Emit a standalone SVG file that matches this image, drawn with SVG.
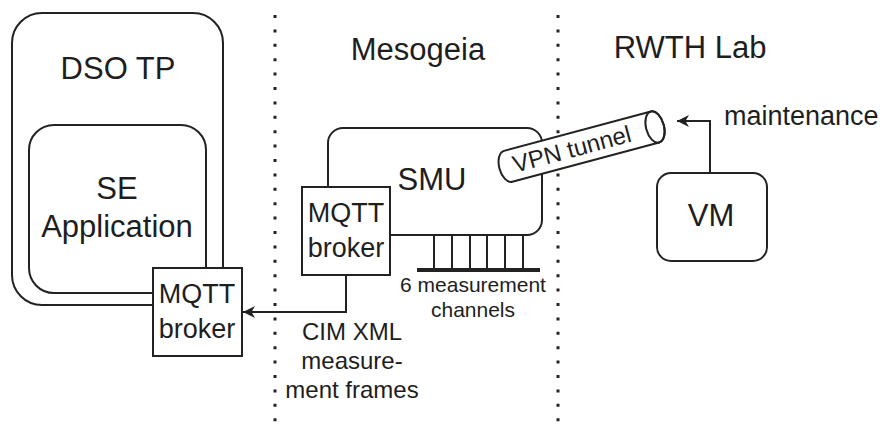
<svg xmlns="http://www.w3.org/2000/svg" width="885" height="428" viewBox="0 0 885 428">
<style>
  .box { fill: #ffffff; stroke: #222222; stroke-width: 2; }
  .line { fill: none; stroke: #222222; stroke-width: 2; }
  .dots { fill: none; stroke: #222222; stroke-width: 3; stroke-dasharray: 3 11.4; }
  text { font-family: "Liberation Sans", Arial, Helvetica, sans-serif; fill: #1e1e1e; text-anchor: middle; }
  .big { font-size: 31px; }
  .mid { font-size: 27px; }
  .lbl { font-size: 24px; }
  .sml { font-size: 21px; }
</style>
<defs>
  <marker id="arrow" markerUnits="userSpaceOnUse" markerWidth="14" markerHeight="12" refX="12" refY="6" orient="auto">
    <path d="M0,0 L12,6 L0,12 L3.5,6 Z" fill="#222222"/>
  </marker>
</defs>
<rect width="885" height="428" fill="#ffffff"/>

<g id="separators">
  <line class="dots" x1="275" y1="15" x2="275" y2="428"/>
  <line class="dots" x1="558" y1="15" x2="558" y2="428"/>
</g>

<g id="titles">
  <text class="big" x="418" y="60">Mesogeia</text>
  <text class="big" x="690" y="58">RWTH Lab</text>
</g>

<g id="dso-tp">
  <rect class="box" x="12" y="13" width="211" height="292" rx="30" ry="30"/>
  <text class="big" x="118" y="79">DSO TP</text>
</g>

<g id="se-application">
  <rect class="box" x="29" y="125" width="177" height="168" rx="25" ry="25"/>
  <text class="big" x="117" y="199">SE</text>
  <text class="big" x="117" y="237">Application</text>
</g>

<g id="mqtt-broker-dso">
  <rect class="box" x="153" y="268" width="89" height="88"/>
  <text class="mid" x="197" y="303">MQTT</text>
  <text class="mid" x="197" y="338">broker</text>
</g>

<g id="smu">
  <rect class="box" x="328" y="128" width="214" height="107" rx="15" ry="15"/>
  <text class="big" x="432" y="190">SMU</text>
</g>

<g id="measurement-channels">
  <g class="line">
    <line x1="434" y1="235" x2="434" y2="270"/>
    <line x1="452" y1="235" x2="452" y2="270"/>
    <line x1="470" y1="235" x2="470" y2="270"/>
    <line x1="487" y1="235" x2="487" y2="270"/>
    <line x1="505" y1="235" x2="505" y2="270"/>
    <line x1="523" y1="235" x2="523" y2="270"/>
  </g>
  <line x1="417" y1="270" x2="540" y2="270" stroke="#222222" stroke-width="4"/>
  <text class="sml" x="473" y="292">6 measurement</text>
  <text class="sml" x="473" y="317">channels</text>
</g>

<g id="mqtt-broker-smu">
  <rect class="box" x="302" y="187" width="88" height="88"/>
  <text class="mid" x="346" y="222">MQTT</text>
  <text class="mid" x="346" y="257">broker</text>
</g>

<g id="vpn-tunnel" transform="translate(655,127) rotate(-15)">
  <path class="box" d="M -152,-16 L 0,-16 A 9 16 0 0 1 0,16 L -152,16 A 9 16 0 0 1 -152,-16 Z"/>
  <ellipse class="line" cx="0" cy="0" rx="9" ry="16"/>
  <text class="lbl" x="-86" y="8">VPN tunnel</text>
</g>

<g id="vm">
  <rect class="box" x="657" y="173" width="110" height="88" rx="14" ry="14"/>
  <text class="big" x="711" y="226">VM</text>
</g>

<g id="connectors">
  <polyline class="line" points="346,275 346,312 243,312" marker-end="url(#arrow)"/>
  <polyline class="line" points="710,173 710,121 677,121" marker-end="url(#arrow)"/>
</g>

<g id="connector-labels">
  <text class="lbl" x="352" y="340">CIM XML</text>
  <text class="lbl" x="352" y="369">measure-</text>
  <text class="lbl" x="352" y="398">ment frames</text>
  <text class="mid" x="724" y="125" style="text-anchor:start">maintenance</text>
</g>
</svg>
